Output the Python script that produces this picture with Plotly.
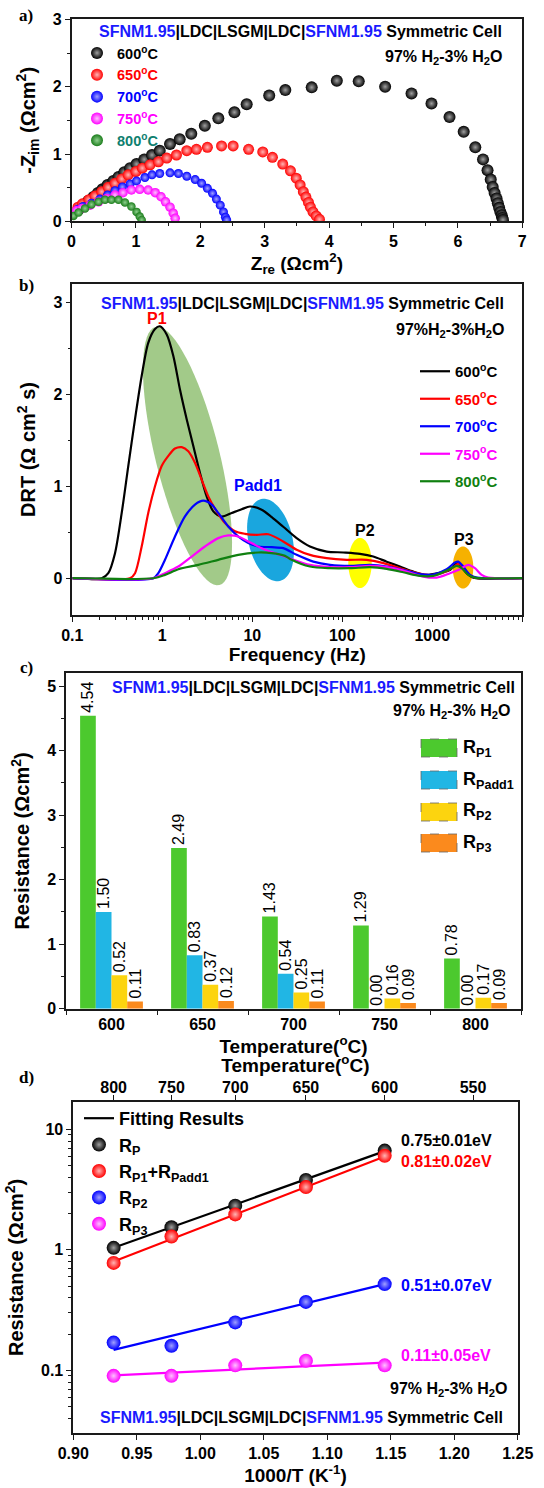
import numpy as np
import plotly.graph_objects as go

W, H = 544, 1488
FONT = "Liberation Sans, Arial, sans-serif"
SERIF = "Liberation Serif, Times New Roman, serif"


def PX(x):
    return x / W


def PY(y):
    return 1 - y / H


# ---------------- Panel a: Nyquist data (Ohm cm2) ----------------
temps_a = ["600", "650", "700", "750", "800"]
z600_re = [0.11, 0.18, 0.26, 0.34, 0.41, 0.48, 0.56, 0.65, 0.73, 0.82, 0.91, 1.01, 1.13, 1.25, 1.37, 1.53,
           1.68, 1.86, 2.07, 2.28, 2.53, 2.72, 3.07, 3.32, 3.73, 4.12, 4.46, 4.87, 5.28, 5.59, 5.87, 6.09,
           6.27, 6.39, 6.46, 6.51, 6.54, 6.57, 6.60, 6.62, 6.64, 6.66, 6.68, 6.69, 6.70]
z600_im = [0.18, 0.24, 0.30, 0.36, 0.42, 0.475, 0.54, 0.60, 0.66, 0.73, 0.79, 0.85, 0.92, 0.985, 1.05, 1.15,
           1.22, 1.30, 1.42, 1.53, 1.62, 1.74, 1.87, 1.95, 1.99, 2.09, 2.08, 2.00, 1.90, 1.75, 1.55, 1.33,
           1.10, 0.92, 0.76, 0.62, 0.51, 0.42, 0.34, 0.27, 0.20, 0.14, 0.09, 0.05, 0.02]
z650_re = [0.10, 0.17, 0.27, 0.365, 0.47, 0.57, 0.675, 0.78, 0.88, 1.0, 1.10, 1.22, 1.35, 1.48, 1.63, 1.79,
           1.94, 2.11, 2.33, 2.51, 2.75, 2.97, 3.12, 3.28, 3.40, 3.49, 3.55, 3.60, 3.64, 3.68, 3.71, 3.75,
           3.80, 3.85]
z650_im = [0.21, 0.26, 0.32, 0.375, 0.44, 0.505, 0.565, 0.63, 0.69, 0.74, 0.79, 0.84, 0.885, 0.94, 0.985,
           1.05, 1.07, 1.10, 1.12, 1.12, 1.07, 1.03, 0.95, 0.85, 0.75, 0.64, 0.54, 0.44, 0.36, 0.28, 0.21,
           0.14, 0.08, 0.03]
z700_re = [0.10, 0.18, 0.31, 0.44, 0.56, 0.675, 0.79, 0.91, 1.01, 1.14, 1.25, 1.37, 1.53, 1.66, 1.79, 1.92,
           2.02, 2.11, 2.19, 2.25, 2.31, 2.36, 2.39, 2.41]
z700_im = [0.18, 0.22, 0.27, 0.33, 0.39, 0.455, 0.51, 0.555, 0.60, 0.65, 0.69, 0.71, 0.72, 0.71, 0.67, 0.62,
           0.565, 0.49, 0.415, 0.33, 0.24, 0.14, 0.06, 0.02]
z750_re = [0.08, 0.16, 0.29, 0.42, 0.55, 0.675, 0.80, 0.93, 1.06, 1.19, 1.30, 1.39, 1.46, 1.53, 1.58, 1.61]
z750_im = [0.16, 0.19, 0.24, 0.29, 0.34, 0.39, 0.425, 0.465, 0.475, 0.465, 0.425, 0.365, 0.29, 0.21, 0.12,
           0.045]
z800_re = [0.03, 0.11, 0.21, 0.31, 0.42, 0.52, 0.62, 0.73, 0.83, 0.93, 1.01, 1.06, 1.09]
z800_im = [0.08, 0.13, 0.19, 0.25, 0.29, 0.32, 0.32, 0.32, 0.28, 0.22, 0.14, 0.07, 0.02]

# ---------------- Panel b: DRT data (log10 frequency, DRT) ----------------
drt600_logf = [-1.0, -0.673, -0.6, -0.526, -0.451, -0.378, -0.303, -0.229, -0.156, -0.081, -0.026, 0.049,
               0.122, 0.197, 0.271, 0.344, 0.419, 0.493, 0.567, 0.66, 0.771, 0.882, 0.974, 1.104, 1.216,
               1.344, 1.493, 1.641, 1.827, 2.011, 2.197, 2.344, 2.493, 2.641, 2.789, 2.938, 3.086, 3.197,
               3.271, 3.327, 3.382, 3.456, 4.0]
drt600 = [0, 0, 0.055, 0.27, 0.71, 1.22, 1.73, 2.20, 2.56, 2.71, 2.74, 2.65, 2.42, 2.05, 1.73, 1.44, 1.145,
          0.89, 0.727, 0.67, 0.71, 0.75, 0.78, 0.745, 0.665, 0.56, 0.436, 0.345, 0.29, 0.28, 0.265, 0.236,
          0.18, 0.127, 0.072, 0.036, 0.061, 0.09, 0.164, 0.12, 0.055, 0.007, 0]
drt650_logf = [-1.0, -0.359, -0.303, -0.229, -0.156, -0.081, -0.007, 0.067, 0.141, 0.216, 0.289, 0.363,
               0.438, 0.511, 0.604, 0.697, 0.808, 0.919, 1.049, 1.178, 1.344, 1.493, 1.641, 1.827, 2.049,
               2.271, 2.456, 2.641, 2.827, 2.974, 3.122, 3.233, 3.289, 3.344, 3.4, 3.474, 4.0]
drt650 = [0, 0, 0.055, 0.345, 0.71, 1.0, 1.22, 1.33, 1.41, 1.425, 1.38, 1.255, 1.07, 0.89, 0.727, 0.60,
          0.51, 0.483, 0.472, 0.478, 0.40, 0.31, 0.254, 0.218, 0.20, 0.20, 0.164, 0.109, 0.055, 0.033,
          0.061, 0.12, 0.156, 0.12, 0.047, 0.007, 0]
drt700_logf = [-1.0, -0.1, -0.044, 0.03, 0.141, 0.252, 0.363, 0.456, 0.549, 0.622, 0.733, 0.844, 0.956,
               1.067, 1.216, 1.344, 1.493, 1.678, 1.863, 2.086, 2.308, 2.493, 2.678, 2.863, 3.011, 3.16,
               3.252, 3.289, 3.344, 3.419, 3.493, 4.0]
drt700 = [0, 0, 0.055, 0.2, 0.454, 0.672, 0.80, 0.843, 0.80, 0.71, 0.563, 0.454, 0.382, 0.345, 0.338,
          0.327, 0.254, 0.18, 0.145, 0.134, 0.145, 0.127, 0.09, 0.044, 0.04, 0.098, 0.17, 0.18, 0.127,
          0.036, 0.007, 0]
drt750_logf = [-1.0, -0.1, 0.03, 0.178, 0.327, 0.474, 0.622, 0.733, 0.844, 0.956, 1.104, 1.252, 1.363,
               1.419, 1.641, 1.863, 2.086, 2.308, 2.493, 2.678, 2.9, 3.049, 3.197, 3.308, 3.4, 3.474, 3.549,
               3.622, 4.0]
drt750 = [0, 0, 0.055, 0.127, 0.236, 0.345, 0.436, 0.465, 0.454, 0.40, 0.327, 0.273, 0.236, 0.215, 0.145,
          0.12, 0.12, 0.134, 0.12, 0.083, 0.018, 0.007, 0.055, 0.098, 0.145, 0.109, 0.036, 0.007, 0]
drt800_logf = [-1.0, -0.1, 0.03, 0.178, 0.4, 0.622, 0.844, 1.067, 1.216, 1.363, 1.419, 1.641, 1.863, 2.086,
               2.308, 2.493, 2.678, 2.863, 3.011, 3.16, 3.271, 3.327, 3.4, 3.474, 4.0]
drt800 = [0, 0, 0.036, 0.098, 0.145, 0.20, 0.254, 0.28, 0.273, 0.243, 0.21, 0.127, 0.109, 0.109, 0.12,
          0.101, 0.065, 0.025, 0.025, 0.083, 0.134, 0.109, 0.036, 0.007, 0]

# ---------------- Panel c: resistances (Ohm cm2) ----------------
temps_c = ["600", "650", "700", "750", "800"]
R_P1 = [4.54, 2.49, 1.43, 1.29, 0.78]
R_Padd1 = [1.50, 0.83, 0.54, 0.00, 0.00]
R_P2 = [0.52, 0.37, 0.25, 0.16, 0.17]
R_P3 = [0.11, 0.12, 0.11, 0.09, 0.09]

# ---------------- Panel d: Arrhenius ----------------
temps_d = [800, 750, 700, 650, 600]
Rp_tot = [1.04, 1.54, 2.33, 3.81, 6.67]
Rp1_add = [0.78, 1.29, 1.97, 3.32, 6.04]
Rp2 = [0.17, 0.16, 0.25, 0.37, 0.52]
Rp3 = [0.09, 0.09, 0.11, 0.12, 0.11]
fit_temps = [800, 600]
fit_Rp = [1.04, 6.60]
fit_Rp1_add = [0.80, 5.95]
fit_Rp2 = [0.148, 0.52]
fit_Rp3 = [0.091, 0.116]
top_temps = [800, 750, 700, 650, 600, 550]
Ea_labels = ["0.75±0.01eV", "0.81±0.02eV", "0.51±0.07eV", "0.11±0.05eV"]


def inv_t(ts):
    return [1000.0 / (t + 273.15) for t in ts]


fig = go.Figure()

# ---- panel a traces
a_colors = ["#000000", "#ff0000", "#0000ff", "#ff00ff", "#1b7d1b"]
a_grad = ["#a0a0a0", "#ffb4b4", "#a0a0ff", "#ffc0ff", "#8fd08f"]
a_text = ["#000000", "#ff0000", "#0000ff", "#ff00ff", "#0f7f6f"]
a_sizes = [12, 11, 9, 9.5, 8.5]
a_series = [(z600_re, z600_im), (z650_re, z650_im), (z700_re, z700_im), (z750_re, z750_im),
            (z800_re, z800_im)]
for i, (t, (xs, ys)) in enumerate(zip(temps_a, a_series)):
    fig.add_trace(go.Scatter(
        x=xs, y=ys, mode="markers", xaxis="x", yaxis="y", legend="legend",
        name=f"<span style='color:{a_text[i]}'>{t}<sup>o</sup>C</span>",
        marker=dict(size=a_sizes[i], color=a_colors[i], line=dict(width=0),
                    gradient=dict(type="radial", color=a_grad[i]))))

# ---- panel b traces
b_colors = ["#000000", "#ff0000", "#0000ff", "#ff00ff", "#108010"]
b_series = [(drt600_logf, drt600), (drt650_logf, drt650), (drt700_logf, drt700), (drt750_logf, drt750),
            (drt800_logf, drt800)]
for i, (t, (lf, d)) in enumerate(zip(temps_a, b_series)):
    fig.add_trace(go.Scatter(
        x=[10 ** v for v in lf], y=d, mode="lines", xaxis="x2", yaxis="y2", legend="legend2",
        legendgroup=f"b{t}",
        name=f"<span style='color:{b_colors[i]}'>{t}<sup>o</sup>C</span>",
        line=dict(color=b_colors[i], width=2.2, shape="spline", smoothing=0.8)))

# ---- panel c bars
c_colors = ["#4cc92e", "#21b6e4", "#fcd40f", "#fb8a1d"]
c_names = ["R<sub>P1</sub>", "R<sub>Padd1</sub>", "R<sub>P2</sub>", "R<sub>P3</sub>"]
for name, vals, col in zip(c_names, [R_P1, R_Padd1, R_P2, R_P3], c_colors):
    fig.add_trace(go.Bar(
        x=temps_c, y=vals, name=name, xaxis="x3", yaxis="y3", showlegend=False,
        marker=dict(color=col, line=dict(width=0)),
        text=[f"{v:.2f}" for v in vals], textposition="outside", textangle=-90,
        constraintext="none", cliponaxis=False,
        textfont=dict(family=FONT, size=16, color="black")))

# ---- panel d
d_colors = ["#000000", "#ff0000", "#0000ff", "#ff00ff"]
d_grad = ["#a0a0a0", "#ffb4b4", "#a0a0ff", "#ffc0ff"]
fits = [fit_Rp, fit_Rp1_add, fit_Rp2, fit_Rp3]
for i, fv in enumerate(fits):
    fig.add_trace(go.Scatter(
        x=inv_t(fit_temps), y=fv, mode="lines", xaxis="x4", yaxis="y4", legend="legend3",
        name="Fitting Results", showlegend=(i == 0),
        line=dict(color=d_colors[i], width=2.2)))
d_names = ["R<sub>P</sub>", "R<sub>P1</sub>+R<sub>Padd1</sub>", "R<sub>P2</sub>", "R<sub>P3</sub>"]
for i, (name, vals) in enumerate(zip(d_names, [Rp_tot, Rp1_add, Rp2, Rp3])):
    fig.add_trace(go.Scatter(
        x=inv_t(temps_d), y=vals, mode="markers", xaxis="x4", yaxis="y4", legend="legend3",
        name=name,
        marker=dict(size=14, color=d_colors[i], line=dict(width=0),
                    gradient=dict(type="radial", color=d_grad[i]))))
# invisible trace so the top temperature axis gets drawn
fig.add_trace(go.Scatter(x=inv_t(top_temps), y=[None] * len(top_temps), mode="markers",
                         xaxis="x5", yaxis="y4", showlegend=False, hoverinfo="skip",
                         marker=dict(opacity=0)))

# ---------------- axes ----------------
LINE = "#1a1a1a"
tickfont = dict(family=FONT, size=16, color="black", weight="bold")
titlefont = dict(family=FONT, size=19, color="black", weight="bold")
base = dict(showline=True, linecolor=LINE, linewidth=1.5, mirror=True, ticks="outside", ticklen=5,
            tickwidth=1.3, tickcolor=LINE, showgrid=False, zeroline=False, tickfont=tickfont)


def minor_lin(d):
    return dict(dtick=d, ticks="outside", ticklen=3, tickwidth=1.1, tickcolor=LINE, showgrid=False)


log_minor_b = [k * 10.0 ** e for e in range(-1, 4) for k in range(2, 10)]
log_minor_d = [k * 10.0 ** e for e in range(-2, 2) for k in range(2, 10)]

fig.update_layout(
    xaxis=dict(base, domain=[PX(71.5), PX(522.3)], anchor="y", range=[0, 7], tick0=0, dtick=1,
               minor=minor_lin(0.5),
               title=dict(text="Z<sub>re</sub> (Ωcm<sup>2</sup>)", font=titlefont, standoff=0)),
    yaxis=dict(base, domain=[PY(221.3), PY(19.4)], anchor="x", range=[0, 3], tick0=0, dtick=1,
               minor=minor_lin(0.5),
               title=dict(text="-Z<sub>im</sub> (Ωcm<sup>2</sup>)", font=dict(titlefont, size=20),
                          standoff=12)),
    xaxis2=dict(base, domain=[PX(72.3), PX(522.3)], anchor="y2", type="log", range=[-1, 4.0005],
                tickmode="array", tickvals=[0.1, 1, 10, 100, 1000, 10000],
                ticktext=["0.1", "1", "10", "100", "1000", "10000"],
                minor=dict(tickmode="array", tickvals=log_minor_b, ticks="outside", ticklen=3,
                           tickwidth=1.1, tickcolor=LINE, showgrid=False),
                title=dict(text="Frequency (Hz)", font=titlefont, standoff=5)),
    yaxis2=dict(base, domain=[PY(615), PY(284)], anchor="x2", range=[-0.4, 3.2], tick0=0, dtick=1,
                minor=minor_lin(0.5),
                title=dict(text="DRT (Ω cm<sup>2</sup> s)", font=dict(titlefont, size=20), standoff=12)),
    xaxis3=dict(base, domain=[PX(66), PX(521)], anchor="y3", type="category", range=[-0.5, 4.5],
                tickson="boundaries",
                title=dict(text="Temperature(<sup>o</sup>C)", font=titlefont, standoff=3)),
    yaxis3=dict(base, domain=[PY(1008.7), PY(673.3)], anchor="x3", range=[0, 5.2], tick0=0, dtick=1,
                minor=minor_lin(0.5),
                title=dict(text="Resistance (Ωcm<sup>2</sup>)", font=dict(titlefont, size=20),
                           standoff=12)),
    xaxis4=dict(base, domain=[PX(73.2), PX(517.7)], anchor="y4", range=[0.9, 1.25], tick0=0.9,
                dtick=0.05, tickformat=".2f",
                title=dict(text="1000/T (K<sup>-1</sup>)", font=titlefont, standoff=6)),
    xaxis5=dict(base, overlaying="x4", anchor="y4", side="top", range=[0.9, 1.25], mirror=False,
                tickmode="array", tickvals=inv_t(top_temps), ticktext=[str(t) for t in top_temps],
                ticklabelstandoff=-4,
                title=dict(text="Temperature(<sup>o</sup>C)", font=titlefont, standoff=1)),
    yaxis4=dict(base, domain=[PY(1433), PY(1101.7)], anchor="x4", type="log", range=[-1.52, 1.23],
                tickmode="array", tickvals=[0.1, 1, 10], ticktext=["0.1", "1", "10"],
                minor=dict(tickmode="array", tickvals=log_minor_d, ticks="outside", ticklen=3,
                           tickwidth=1.1, tickcolor=LINE, showgrid=False),
                title=dict(text="Resistance (Ωcm<sup>2</sup>)", font=dict(titlefont, size=20),
                           standoff=12)),
)

# ---------------- legends ----------------
fig.update_layout(
    legend=dict(x=PX(77), y=PY(37), xanchor="left", yanchor="top", bgcolor="rgba(0,0,0,0)",
                font=dict(family=FONT, size=14.5, color="black", weight="bold"), itemsizing="constant",
                tracegroupgap=0),
    legend2=dict(x=PX(415), y=PY(355), xanchor="left", yanchor="top", bgcolor="rgba(0,0,0,0)",
                 font=dict(family=FONT, size=15, color="black", weight="bold"), tracegroupgap=5),
    legend3=dict(x=PX(79), y=PY(1100), xanchor="left", yanchor="top", bgcolor="rgba(0,0,0,0)",
                 font=dict(family=FONT, size=18, color="black", weight="bold"), tracegroupgap=0),
)

# ---------------- annotations ----------------
BL = "#1a1aff"
cell = (f"<span style='color:{BL}'>SFNM1.95</span>|LDC|LSGM|LDC|"
        f"<span style='color:{BL}'>SFNM1.95</span> Symmetric Cell")
gas = "97% H<sub>2</sub>-3% H<sub>2</sub>O"
gas_b = "97%H<sub>2</sub>-3%H<sub>2</sub>O"

anns = []


def ann(text, x, y, xanchor="center", size=16, color="black", family=FONT, weight="bold"):
    anns.append(dict(text=text, x=PX(x), y=PY(y), xref="paper", yref="paper", xanchor=xanchor,
                     yanchor="middle", showarrow=False,
                     font=dict(family=family, size=size, color=color, weight=weight)))


for lab, y in zip(["a)", "b)", "c)", "d)"], [15, 286, 667, 1077]):
    ann(lab, 26, y, size=17, family=SERIF)

ann(cell, 504, 32, xanchor="right")
ann(gas, 504, 57, xanchor="right")
ann(cell, 506, 303, xanchor="right")
ann(gas_b, 507, 331, xanchor="right")
ann("P1", 157, 318, color="#ff0000")
ann("Padd1", 258, 485, color="#0000ff")
ann("P2", 365, 530)
ann("P3", 464, 539)
ann(cell, 517, 687, xanchor="right")
ann(gas, 512, 711, xanchor="right")
for name, col, y in zip(c_names, c_colors, [748, 780, 812, 843]):
    ann(name, 461, y, xanchor="left", size=18)
ann(Ea_labels[0], 399, 1140, xanchor="left", color="#000000")
ann(Ea_labels[1], 399, 1161, xanchor="left", color="#ff0000")
ann(Ea_labels[2], 399, 1285, xanchor="left", color="#0000ff")
ann(Ea_labels[3], 399, 1355, xanchor="left", color="#ff00ff")
ann(gas, 509, 1389, xanchor="right")
ann(cell, 505, 1417, xanchor="right")


# ---------------- shapes ----------------
def ellipse_path(cx, cy, a, b, tilt_deg, n=72):
    t = np.linspace(0, 2 * np.pi, n, endpoint=False)
    th = np.radians(tilt_deg)
    ux, uy = np.sin(th), np.cos(th)
    vx, vy = np.cos(th), -np.sin(th)
    xs = cx + a * np.cos(t) * ux + b * np.sin(t) * vx
    ys = cy + a * np.cos(t) * uy + b * np.sin(t) * vy
    pts = [f"{PX(x):.5f},{PY(y):.5f}" for x, y in zip(xs, ys)]
    return "M" + " L".join(pts) + " Z"


shapes = []
for (cx, cy, a, b, tilt, col) in [(187.5, 456, 133, 32, 13.9, "#a2ca89"),
                                  (270.5, 540, 42, 22, 12.9, "#1aa6de"),
                                  (360, 563, 25, 11.7, 0, "#ffff00"),
                                  (463, 567.5, 21, 10.3, 0, "#f6b100")]:
    shapes.append(dict(type="path", path=ellipse_path(cx, cy, a, b, tilt), xref="paper", yref="paper",
                       fillcolor=col, line=dict(width=0), layer="below"))
for col, y in zip(c_colors, [748, 780, 812, 843]):
    shapes.append(dict(type="rect", xref="paper", yref="paper", x0=PX(421), x1=PX(457), y0=PY(y + 9),
                       y1=PY(y - 9), fillcolor=col, line=dict(color="#666666", width=0.8, dash="dash")))

fig.update_layout(
    width=W, height=H, margin=dict(l=0, r=0, t=0, b=0, pad=0), template="none",
    paper_bgcolor="white", plot_bgcolor="rgba(0,0,0,0)",
    font=dict(family=FONT, color="black"),
    barmode="group", bargap=0.31, bargroupgap=0,
    annotations=anns, shapes=shapes,
)

fig.write_html("out.html")
